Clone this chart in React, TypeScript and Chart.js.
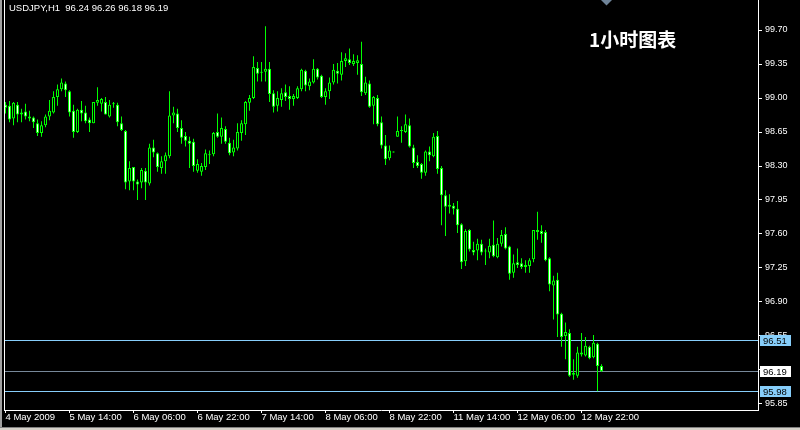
import React, { useEffect, useRef } from "react";
import { Chart, registerables } from "chart.js";

Chart.register(...registerables);

const symbolLabel = "USDJPY,H1";
const chartTitle = "1小时图表";

const opens = [
  98.93, 98.92, 98.79, 98.93, 98.83, 98.86, 98.81, 98.80, 98.74, 98.64,
  98.72, 98.81, 98.85, 99.01, 99.09, 99.15, 99.07, 98.87, 98.65, 98.88,
  98.85, 98.78, 98.74, 98.95, 98.94, 98.96, 98.81, 98.935, 98.93, 98.74,
  98.66, 98.14, 98.29, 98.14, 98.13, 98.25, 98.12, 98.49, 98.43, 98.28,
  98.35, 98.40, 98.82, 98.84, 98.69, 98.61, 98.56, 98.55, 98.25, 98.24,
  98.29, 98.42, 98.42, 98.65, 98.60, 98.68, 98.54, 98.44, 98.48, 98.64,
  98.73, 98.95, 99.00, 99.31, 99.26, 99.27, 99.30, 99.05, 98.92, 98.98,
  99.06, 99.02, 98.99, 99.00, 99.09, 99.28, 99.12, 99.16, 99.30, 99.23,
  99.01, 99.07, 99.16, 99.28, 99.24, 99.38, 99.40, 99.35, 99.36, 99.35,
  99.05, 99.15, 98.92, 99.00, 98.75, 98.51, 98.38, 98.445, 98.60, 98.66,
  98.65, 98.72, 98.49, 98.34, 98.32, 98.23, 98.45, 98.40, 98.61, 98.28,
  98.00, 97.88, 97.89, 97.86, 97.70, 97.32, 97.64, 97.435, 97.43, 97.50,
  97.42, 97.41, 97.49, 97.36, 97.50, 97.60, 97.47, 97.20, 97.31, 97.30,
  97.26, 97.27, 97.34, 97.64, 97.63, 97.62, 97.35, 97.07, 97.13, 96.78,
  96.55, 96.58, 96.15, 96.14, 96.38, 96.35, 96.44, 96.33, 96.47, 96.24
];
const highs = [
  98.96, 98.97, 98.96, 98.96, 98.89, 98.94, 98.87, 98.81, 98.78, 98.76,
  98.83, 98.98, 99.07, 99.14, 99.20, 99.17, 99.08, 98.93, 98.89, 98.97,
  98.92, 98.80, 98.96, 99.11, 99.00, 99.01, 98.98, 98.96, 98.95, 98.81,
  98.67, 98.35, 98.29, 98.16, 98.28, 98.28, 98.53, 98.57, 98.44, 98.40,
  98.44, 99.07, 98.91, 98.89, 98.77, 98.65, 98.60, 98.58, 98.37, 98.33,
  98.47, 98.46, 98.65, 98.84, 98.80, 98.71, 98.59, 98.57, 98.74, 98.77,
  98.97, 99.03, 99.43, 99.37, 99.37, 99.74, 99.37, 99.08, 99.07, 99.10,
  99.14, 99.12, 99.04, 99.12, 99.30, 99.29, 99.20, 99.40, 99.31, 99.24,
  99.10, 99.21, 99.35, 99.36, 99.47, 99.46, 99.51, 99.45, 99.44, 99.58,
  99.22, 99.18, 99.02, 99.03, 98.81, 98.62, 98.51, 98.45, 98.81, 98.71,
  98.83, 98.79, 98.52, 98.41, 98.33, 98.46, 98.50, 98.64, 98.66, 98.30,
  98.05, 98.01, 97.92, 97.94, 97.71, 97.65, 97.65, 97.52, 97.55, 97.54,
  97.45, 97.55, 97.74, 97.56, 97.64, 97.67, 97.48, 97.39, 97.45, 97.35,
  97.33, 97.35, 97.64, 97.83, 97.69, 97.64, 97.36, 97.17, 97.20, 96.79,
  96.69, 96.62, 96.31, 96.44, 96.58, 96.54, 96.45, 96.56, 96.48, 96.26
];
const lows = [
  98.84, 98.75, 98.72, 98.75, 98.75, 98.78, 98.76, 98.69, 98.61, 98.60,
  98.70, 98.77, 98.84, 98.92, 99.07, 99.01, 98.81, 98.59, 98.64, 98.76,
  98.74, 98.65, 98.74, 98.92, 98.86, 98.83, 98.80, 98.90, 98.71, 98.66,
  98.06, 98.05, 98.05, 97.95, 98.07, 97.95, 98.10, 98.39, 98.24, 98.22,
  98.22, 98.38, 98.74, 98.65, 98.53, 98.50, 98.28, 98.24, 98.23, 98.20,
  98.26, 98.32, 98.40, 98.59, 98.53, 98.53, 98.41, 98.40, 98.46, 98.56,
  98.62, 98.87, 98.99, 99.17, 99.17, 99.17, 98.96, 98.85, 98.86, 98.91,
  98.97, 98.88, 98.92, 98.99, 99.07, 99.07, 99.08, 99.15, 99.19, 99.00,
  98.93, 98.99, 99.14, 99.15, 99.18, 99.32, 99.34, 99.33, 99.24, 99.02,
  99.03, 98.90, 98.73, 98.71, 98.48, 98.31, 98.36, 98.44, 98.60, 98.54,
  98.64, 98.49, 98.28, 98.28, 98.17, 98.20, 98.35, 98.39, 98.22, 97.69,
  97.58, 97.81, 97.80, 97.61, 97.24, 97.27, 97.42, 97.38, 97.33, 97.38,
  97.28, 97.35, 97.36, 97.35, 97.47, 97.44, 97.13, 97.15, 97.25, 97.24,
  97.20, 97.20, 97.31, 97.54, 97.51, 97.32, 97.01, 96.72, 96.54, 96.44,
  96.31, 96.13, 96.10, 96.12, 96.34, 96.34, 96.31, 96.32, 95.98, 96.18
];
const closes = [
  98.90, 98.78, 98.95, 98.83, 98.85, 98.81, 98.79, 98.75, 98.64, 98.72,
  98.81, 98.87, 99.01, 99.09, 99.16, 99.08, 98.85, 98.65, 98.88, 98.84,
  98.76, 98.74, 98.96, 98.98, 98.99, 98.83, 98.93, 98.94, 98.75, 98.67,
  98.13, 98.28, 98.14, 98.11, 98.26, 98.13, 98.49, 98.44, 98.29, 98.35,
  98.41, 98.82, 98.85, 98.69, 98.59, 98.56, 98.53, 98.30, 98.32, 98.30,
  98.43, 98.41, 98.64, 98.60, 98.69, 98.55, 98.43, 98.49, 98.65, 98.74,
  98.96, 99.00, 99.32, 99.25, 99.27, 99.30, 99.04, 98.91, 99.00, 99.05,
  99.01, 98.99, 99.02, 99.10, 99.29, 99.13, 99.17, 99.30, 99.21, 99.01,
  99.07, 99.16, 99.29, 99.25, 99.38, 99.41, 99.36, 99.38, 99.39, 99.06,
  99.16, 98.91, 99.01, 98.73, 98.51, 98.37, 98.46, 98.44, 98.66, 98.665,
  98.73, 98.50, 98.33, 98.30, 98.23, 98.45, 98.41, 98.60, 98.27, 98.00,
  97.88, 97.90, 97.86, 97.69, 97.31, 97.63, 97.44, 97.41, 97.50, 97.41,
  97.42, 97.48, 97.37, 97.50, 97.59, 97.45, 97.19, 97.30, 97.28, 97.26,
  97.28, 97.33, 97.64, 97.62, 97.60, 97.33, 97.08, 97.12, 96.77, 96.54,
  96.59, 96.14, 96.17, 96.38, 96.36, 96.45, 96.32, 96.48, 96.24, 96.19
];

const xTickLabels = [
  "4 May 2009", "5 May 14:00", "6 May 06:00", "6 May 22:00", "7 May 14:00",
  "8 May 06:00", "8 May 22:00", "11 May 14:00", "12 May 06:00", "12 May 22:00"
];
const xTickStep = 16;
const yTickValues = [95.85, 96.2, 96.55, 96.9, 97.25, 97.6, 97.95, 98.3, 98.65, 99.0, 99.35, 99.7];
const userLevels = [96.51, 95.98];

const Y_MIN = 95.788;
const Y_MAX = 100.009;
const X_MIN = -0.375;
const X_MAX = 188.125;

const LIME = "#00ff00";
const LEVEL_BLUE = "#87cefa";
const BID_GRAY = "#778899";
const UI_FONT = "Liberation Sans";

export default function App() {
  const canvasRef = useRef<HTMLCanvasElement | null>(null);

  useEffect(() => {
    const canvas = canvasRef.current;
    if (!canvas) return;
    const n = opens.length;
    const idx = opens.map((_, i) => i);
    const last = n - 1;
    const bid = closes[last];
    const headline =
      symbolLabel + "  " +
      [opens[last], highs[last], lows[last], closes[last]].map((v) => v.toFixed(2)).join(" ");

    const mtPlugin = {
      id: "mtDecor",
      beforeDraw(chart: any) {
        const { ctx, width, height } = chart;
        ctx.save();
        ctx.fillStyle = "#000";
        ctx.fillRect(0, 0, width, height);
        ctx.restore();
      },
      beforeDatasetsDraw(chart: any) {
        const { ctx, chartArea, scales } = chart;
        const ys = scales.y;
        ctx.save();
        ctx.lineWidth = 1;
        const line = (v: number, c: string) => {
          const py = Math.round(ys.getPixelForValue(v)) + 0.5;
          ctx.strokeStyle = c;
          ctx.beginPath();
          ctx.moveTo(chartArea.left, py);
          ctx.lineTo(chartArea.right, py);
          ctx.stroke();
        };
        userLevels.forEach((v) => line(v, LEVEL_BLUE));
        line(bid, BID_GRAY);
        ctx.restore();
      },
      afterDraw(chart: any) {
        const { ctx, chartArea, scales, width, height } = chart;
        const ys = scales.y;
        ctx.save();
        // left frame line
        ctx.fillStyle = "#ffffff";
        ctx.fillRect(chartArea.left, 0, 1, chartArea.bottom + 1);
        // window borders
        ctx.fillStyle = "#a0a0a0";
        ctx.fillRect(0, 0, 2, height);
        ctx.fillStyle = "#808080";
        ctx.fillRect(0, height - 3, width, 1);
        ctx.fillStyle = "#d4d0c8";
        ctx.fillRect(0, height - 2, width, 2);

        // price boxes on axis
        const box = (v: number, bg: string) => {
          const py = Math.round(ys.getPixelForValue(v)) + 0.5;
          ctx.fillStyle = bg;
          ctx.fillRect(chartArea.right + 2, py - 5.5, 31, 11);
          ctx.fillStyle = "#000";
          ctx.font = '9.5px "' + UI_FONT + '"';
          ctx.textBaseline = "middle";
          ctx.textAlign = "left";
          ctx.fillText(v.toFixed(2), chartArea.right + 5, py + 0.5);
        };
        userLevels.forEach((v) => box(v, LEVEL_BLUE));
        box(bid, "#ffffff");

        // headline
        ctx.fillStyle = "#ffffff";
        ctx.font = '9.5px "' + UI_FONT + '"';
        ctx.textBaseline = "middle";
        ctx.textAlign = "left";
        ctx.fillText(headline, 9, 8);

        // chart title
        ctx.font = 'bold 19px "Noto Sans CJK SC"';
        ctx.fillText(chartTitle, 589, 40);

        // shift marker
        ctx.fillStyle = "#6f8398";
        ctx.beginPath();
        ctx.moveTo(601, 0);
        ctx.lineTo(612, 0);
        ctx.lineTo(606.5, 5.5);
        ctx.closePath();
        ctx.fill();
        ctx.restore();
      },
    };

    const chart = new Chart(canvas, {
      type: "bar",
      data: {
        datasets: [
          {
            label: "wick",
            data: idx.map((i) => ({ x: i, y: [lows[i], highs[i]] })) as any,
            backgroundColor: LIME,
            borderWidth: 0,
            grouped: false,
            barPercentage: 0.25,
            categoryPercentage: 1,
            minBarLength: 1,
            order: 2,
          } as any,
          {
            label: "body",
            data: idx.map((i) => ({ x: i, y: [opens[i], closes[i]] })) as any,
            backgroundColor: idx.map((i) => (closes[i] >= opens[i] ? "#000000" : "#ffffff")),
            borderColor: LIME,
            borderWidth: 1,
            borderSkipped: false,
            grouped: false,
            barPercentage: 0.75,
            categoryPercentage: 1,
            minBarLength: 1,
            order: 1,
          } as any,
        ],
      },
      options: {
        responsive: false,
        maintainAspectRatio: false,
        devicePixelRatio: 1,
        animation: false,
        events: [],
        layout: { padding: { left: 4, top: 0, right: 0, bottom: 0 } },
        plugins: {
          legend: { display: false },
          tooltip: { enabled: false },
          title: { display: false },
        },
        scales: {
          x: {
            type: "linear",
            position: "bottom",
            min: X_MIN,
            max: X_MAX,
            bounds: "data",
            offset: false,
            grid: {
              display: true,
              offset: false,
              drawOnChartArea: false,
              drawTicks: true,
              tickLength: 3,
              color: "#ffffff",
              lineWidth: 1,
            },
            border: { display: true, color: "#ffffff", width: 1 },
            ticks: {
              color: "#ffffff",
              font: { family: UI_FONT, size: 9.5, lineHeight: 0.9 },
              align: "start",
              padding: 0,
              autoSkip: false,
              maxRotation: 0,
              minRotation: 0,
              callback: (v: any) => {
                const k = Math.round(Number(v) / xTickStep);
                return xTickLabels[k] ?? "";
              },
            },
            afterBuildTicks: (scale: any) => {
              scale.ticks = xTickLabels.map((_, k) => ({ value: k * xTickStep }));
            },
            afterFit: (scale: any) => {
              scale.height = 20;
              scale.paddingLeft = 0;
              scale.paddingRight = 0;
            },
          } as any,
          y: {
            type: "linear",
            position: "right",
            min: Y_MIN,
            max: Y_MAX,
            bounds: "data",
            offset: false,
            grid: {
              display: true,
              offset: false,
              drawOnChartArea: false,
              drawTicks: true,
              tickLength: 4,
              color: "#ffffff",
              lineWidth: 1,
            },
            border: { display: true, color: "#ffffff", width: 1 },
            ticks: {
              color: "#ffffff",
              font: { family: UI_FONT, size: 9 },
              padding: 3,
              autoSkip: false,
              callback: (v: any) => Number(v).toFixed(2),
            },
            afterBuildTicks: (scale: any) => {
              scale.ticks = yTickValues.map((v) => ({ value: v }));
            },
            afterFit: (scale: any) => {
              scale.width = 42;
              scale.paddingTop = 0;
              scale.paddingBottom = 0;
            },
          } as any,
        },
      },
      plugins: [mtPlugin as any],
    });

    return () => chart.destroy();
  }, []);

  return (
    <div style={{ position: "fixed", left: 0, top: 0, width: 800, height: 430, background: "#000" }}>
      <canvas
        ref={canvasRef}
        width={800}
        height={430}
        style={{ display: "block", width: 800, height: 430 }}
      />
    </div>
  );
}
